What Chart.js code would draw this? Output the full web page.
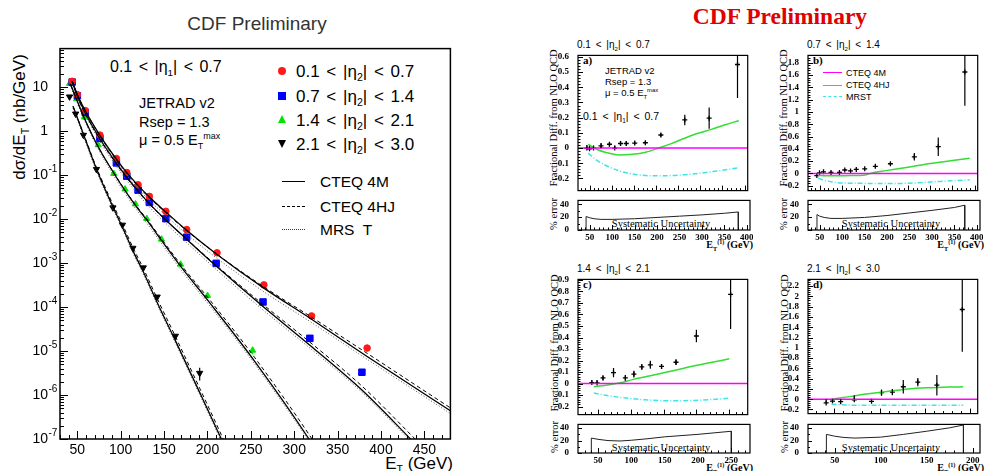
<!DOCTYPE html>
<html>
<head>
<meta charset="utf-8">
<title>CDF dijet cross section</title>
<script src="https://cdn.jsdelivr.net/npm/chart.js@4.4.1/dist/chart.umd.min.js"></script>
<style>
  body { margin: 0; background: #fff; }
  #page { position: relative; width: 985px; height: 471px; overflow: hidden; background: #fff; }
  #page canvas { position: absolute; }
  .t { position: absolute; white-space: nowrap; line-height: 1; color: #000; }
  .sans { font-family: "Liberation Sans", Arial, sans-serif; }
  .serif { font-family: "Liberation Serif", "Times New Roman", serif; }
  .l { transform: translate(0, -50%); }
  .c { transform: translate(-50%, -50%); }
  .r { transform: translate(-100%, -50%); }
  .rot { transform: translate(-50%, -50%) rotate(-90deg); }
  .mk { position: absolute; }
  .ln { position: absolute; height: 0; }
  sub, sup { font-size: 62%; line-height: 0; }
  .sp { word-spacing: 2px; }
</style>
</head>
<body>
<div id="page">
  <!-- left panel text -->
  <div class="t sans c" style="left:257px;top:23px;font-size:19px;color:#333">CDF Preliminary</div>
  <div class="t sans rot" style="left:19px;top:117px;font-size:17px">dσ/dE<sub>T</sub> (nb/GeV)</div>
  <div class="t sans l sp" style="left:110px;top:67px;font-size:16px">0.1 &lt; |η<sub>1</sub>| &lt; 0.7</div>
  <div class="t sans l" style="left:139px;top:103px;font-size:14.5px">JETRAD v2</div>
  <div class="t sans l" style="left:139px;top:122px;font-size:14.5px">Rsep = 1.3</div>
  <div class="t sans l" style="left:139px;top:140px;font-size:14.5px">μ = 0.5 E<sub>T</sub><sup>max</sup></div>

  <div class="mk" style="left:278px;top:67px;width:8px;height:8px;border-radius:50%;background:#ff1a1a"></div>
  <div class="mk" style="left:278px;top:92px;width:8px;height:8px;background:#0000ff"></div>
  <div class="mk" style="left:278px;top:115px;width:0;height:0;border-left:4px solid transparent;border-right:4px solid transparent;border-bottom:8px solid #00e600"></div>
  <div class="mk" style="left:278px;top:140px;width:0;height:0;border-left:4px solid transparent;border-right:4px solid transparent;border-top:8px solid #000"></div>
  <div class="t sans l sp" style="left:296px;top:71px;font-size:17px">0.1 &lt; |η<sub>2</sub>| &lt; 0.7</div>
  <div class="t sans l sp" style="left:296px;top:96px;font-size:17px">0.7 &lt; |η<sub>2</sub>| &lt; 1.4</div>
  <div class="t sans l sp" style="left:296px;top:119.5px;font-size:17px">1.4 &lt; |η<sub>2</sub>| &lt; 2.1</div>
  <div class="t sans l sp" style="left:296px;top:144px;font-size:17px">2.1 &lt; |η<sub>2</sub>| &lt; 3.0</div>

  <div class="ln" style="left:282px;top:181px;width:23px;border-top:1.5px solid #000"></div>
  <div class="ln" style="left:282px;top:206px;width:23px;border-top:1.2px dashed #000"></div>
  <div class="ln" style="left:282px;top:229px;width:23px;border-top:1px dotted #333"></div>
  <div class="t sans l" style="left:320px;top:181.5px;font-size:15.5px">CTEQ 4M</div>
  <div class="t sans l" style="left:320px;top:206.5px;font-size:15.5px">CTEQ 4HJ</div>
  <div class="t sans l" style="left:320px;top:229.5px;font-size:15.5px">MRS&nbsp; T</div>
  <div class="t sans r" style="left:453px;top:463px;font-size:17px">E<sub>T</sub> (GeV)</div>

  <!-- right panels text -->
  <div class="t serif c" style="left:780px;top:17px;font-size:23.5px;font-weight:bold;color:#e00000">CDF Preliminary</div>

  <div class="t sans l sp" style="left:577px;top:44.5px;font-size:10px">0.1 &lt; |η<sub>2</sub>| &lt; 0.7</div>
  <div class="t sans l sp" style="left:807px;top:44.5px;font-size:10px">0.7 &lt; |η<sub>2</sub>| &lt; 1.4</div>
  <div class="t sans l sp" style="left:577px;top:269px;font-size:10px">1.4 &lt; |η<sub>2</sub>| &lt; 2.1</div>
  <div class="t sans l sp" style="left:807px;top:269px;font-size:10px">2.1 &lt; |η<sub>2</sub>| &lt; 3.0</div>

  <div class="t serif l" style="left:583px;top:60px;font-size:11px;font-weight:bold">a)</div>
  <div class="t serif l" style="left:813px;top:60px;font-size:11px;font-weight:bold">b)</div>
  <div class="t serif l" style="left:583px;top:284px;font-size:11px;font-weight:bold">c)</div>
  <div class="t serif l" style="left:813px;top:284px;font-size:11px;font-weight:bold">d)</div>

  <div class="t sans l" style="left:605px;top:71px;font-size:9.5px">JETRAD v2</div>
  <div class="t sans l" style="left:605px;top:81.5px;font-size:9.5px">Rsep = 1.3</div>
  <div class="t sans l" style="left:605px;top:92.5px;font-size:9.5px">μ = 0.5 E<sub>T</sub><sup>max</sup></div>
  <div class="t sans l sp" style="left:583px;top:116px;font-size:10.5px">0.1 &lt; |η<sub>1</sub>| &lt; 0.7</div>

  <div class="ln" style="left:823px;top:72px;width:19px;border-top:1.5px solid #ff00ff"></div>
  <div class="ln" style="left:823px;top:84.5px;width:19px;border-top:1.5px solid #33dd33"></div>
  <div class="ln" style="left:823px;top:96px;width:19px;border-top:1.5px dashed #3ce6e6"></div>
  <div class="t sans l" style="left:846px;top:72.5px;font-size:9px">CTEQ 4M</div>
  <div class="t sans l" style="left:846px;top:85px;font-size:9px">CTEQ 4HJ</div>
  <div class="t sans l" style="left:846px;top:96.5px;font-size:9px">MRST</div>

  <div class="t serif rot" style="left:554px;top:118px;font-size:10.5px">Fractional Diff. from NLO QCD</div>
  <div class="t serif rot" style="left:784px;top:118px;font-size:10.5px">Fractional Diff. from NLO QCD</div>
  <div class="t serif rot" style="left:555px;top:343px;font-size:10.5px">Fractional Diff. from NLO QCD</div>
  <div class="t serif rot" style="left:785px;top:343px;font-size:10.5px">Fractional Diff. from NLO QCD</div>

  <div class="t serif rot" style="left:554px;top:214px;font-size:10.5px">% error</div>
  <div class="t serif rot" style="left:784px;top:214px;font-size:10.5px">% error</div>
  <div class="t serif rot" style="left:555px;top:437px;font-size:10.5px">% error</div>
  <div class="t serif rot" style="left:785px;top:437px;font-size:10.5px">% error</div>

  <div class="t serif c" style="left:661px;top:224px;font-size:10.5px">Systematic Uncertainty</div>
  <div class="t serif c" style="left:891px;top:224px;font-size:10.5px">Systematic Uncertainty</div>
  <div class="t serif c" style="left:661px;top:448px;font-size:10.5px">Systematic Uncertainty</div>
  <div class="t serif c" style="left:891px;top:448px;font-size:10.5px">Systematic Uncertainty</div>

  <div class="t serif r" style="left:753px;top:245px;font-size:10px;font-weight:bold">E<sub>T</sub><sup>(1)</sup> (GeV)</div>
  <div class="t serif r" style="left:984px;top:245px;font-size:10px;font-weight:bold">E<sub>T</sub><sup>(1)</sup> (GeV)</div>
  <div class="t serif r" style="left:753px;top:468px;font-size:10px;font-weight:bold">E<sub>T</sub><sup>(1)</sup> (GeV)</div>
  <div class="t serif r" style="left:984px;top:468px;font-size:10px;font-weight:bold">E<sub>T</sub><sup>(1)</sup> (GeV)</div>
</div>

<script>
// ---------- left panel: measured dsigma/dET (nb/GeV) ----------
const etRed   = [44, 50, 59, 76, 95, 107, 120, 133, 152, 176, 211, 265, 320, 384];
const xsRed   = [13.7, 6.8, 2.96, 0.82, 0.239, 0.115, 0.0607, 0.033, 0.0151, 0.0058, 0.00172, 3.2e-4, 6.3e-5, 1.17e-5];
const etBlue  = [44, 50, 59, 76, 95, 107, 120, 133, 152, 176, 210, 264, 318, 378];
const xsBlue  = [13.2, 6.45, 2.72, 0.687, 0.191, 0.095, 0.0458, 0.0241, 0.0103, 0.0039, 9.9e-4, 1.31e-4, 1.95e-5, 3.3e-6];
const errBlue = [0, 0, 0, 0, 0, 0, 0, 0, 0, 0, 0, 0, 1.5e-6, 0.6e-6];
const etGreen = [41, 49, 58, 74, 92, 105, 117, 130, 147, 169, 200, 252];
const xsGreen = [12.1, 5.43, 2.1, 0.487, 0.109, 0.0482, 0.0221, 0.0103, 0.0035, 9.4e-4, 1.83e-4, 1.04e-5];
const errGreen = [0, 0, 0, 0, 0, 0, 0, 0, 0, 0, 0, 2.0e-6];
const etBlack = [41, 48, 57, 72, 91, 102, 114, 126, 142, 163, 191];
const xsBlack = [6.1, 2.49, 0.82, 0.137, 0.0183, 0.0074, 0.0022, 7.9e-4, 1.71e-4, 2.2e-5, 3.15e-6];
const errBlack = [0, 0, 0, 0, 0, 0, 0, 0, 0, 0, 1.0e-6];

// ---------- left panel: NLO curves ----------
const thEtRed     = [44, 50, 59, 76, 95, 107, 120, 133, 152, 176, 211, 265, 320, 384, 480];
const cteq4mRed   = [13.7, 6.8, 2.96, 0.81, 0.233, 0.115, 0.0589, 0.032, 0.0146, 0.0056, 0.00158, 2.7e-4, 5.3e-5, 7.5e-6, 4.4e-7];
const cteq4hjRed  = [14.1, 6.94, 2.97, 0.79, 0.225, 0.110, 0.0562, 0.0306, 0.0140, 0.00545, 0.00159, 2.88e-4, 5.9e-5, 8.9e-6, 5.1e-7];
const mrstRed     = [13.36, 6.53, 2.78, 0.731, 0.203, 0.0989, 0.0499, 0.0268, 0.0121, 0.00459, 0.00129, 2.23e-4, 4.46e-5, 6.5e-6, 3.8e-7];

const thEtBlue    = [44, 50, 59, 76, 95, 107, 120, 133, 152, 176, 210, 264, 318, 378, 440];
const cteq4mBlue  = [13.7, 6.39, 2.65, 0.677, 0.188, 0.090, 0.044, 0.0226, 0.0096, 0.0035, 8.6e-4, 1.03e-4, 1.36e-5, 1.3e-6, 7.6e-8];
const cteq4hjBlue = [13.3, 6.17, 2.54, 0.650, 0.180, 0.0864, 0.0425, 0.0219, 0.0094, 0.00352, 8.99e-4, 1.15e-4, 1.6e-5, 1.6e-6, 9.7e-8];
const mrstBlue    = [12.6, 5.78, 2.36, 0.586, 0.160, 0.0761, 0.0370, 0.0190, 0.00804, 0.00292, 7.2e-4, 8.65e-5, 1.17e-5, 1.16e-6, 6.8e-8];

const thEtGreen    = [42, 49, 58, 74, 93, 105, 118, 131, 148, 170, 202, 254, 317, 325];
const cteq4mGreen  = [12.0, 5.39, 2.0, 0.445, 0.104, 0.0445, 0.0193, 0.0090, 0.0031, 8.0e-4, 1.3e-4, 6.0e-6, 1.0e-7, 5.6e-8];
const cteq4hjGreen = [11.7, 5.27, 1.96, 0.443, 0.106, 0.0458, 0.0202, 0.00954, 0.00336, 8.92e-4, 1.51e-4, 7.3e-6, 1.27e-7, 7.2e-8];
const mrstGreen    = [11.0, 4.9, 1.8, 0.394, 0.0907, 0.0385, 0.0166, 0.0077, 0.00264, 6.8e-4, 1.11e-4, 5.2e-6, 8.9e-8, 5.0e-8];

const thEtBlack    = [45, 48, 57, 72, 91, 102, 114, 126, 142, 163, 191, 216, 222];
const cteq4mBlack  = [3.7, 2.58, 0.86, 0.139, 0.0191, 0.00657, 0.00193, 6.36e-4, 1.28e-4, 1.73e-5, 1.15e-6, 1.0e-7, 5.5e-8];
const cteq4hjBlack = [3.7, 2.61, 0.894, 0.151, 0.0218, 0.00762, 0.00228, 7.63e-4, 1.57e-4, 2.15e-5, 1.43e-6, 1.24e-7, 6.8e-8];
const mrstBlack    = [3.33, 2.32, 0.774, 0.125, 0.0171, 0.00588, 0.00172, 5.66e-4, 1.14e-4, 1.53e-5, 1.02e-6, 8.8e-8, 4.8e-8];

const xTicksLeft = [50, 100, 150, 200, 250, 300, 350, 400, 450];
const yTicksLeft = [1e-7, 1e-6, 1e-5, 1e-4, 1e-3, 1e-2, 1e-1, 1, 10];

// ---------- right panels: (data - CTEQ4M) / CTEQ4M ----------
const fracA = [0.0, -0.005, 0.0, 0.014, 0.025, 0.0, 0.03, 0.03, 0.033, 0.035, 0.086, 0.185, 0.197, 0.55];
const errA  = [0.02, 0.02, 0.015, 0.02, 0.015, 0.015, 0.015, 0.015, 0.01, 0.01, 0.012, 0.035, 0.07, 0.22];
const fracB = [-0.035, 0.01, 0.025, 0.015, 0.015, 0.055, 0.04, 0.065, 0.075, 0.115, 0.157, 0.27, 0.435, 1.65];
const errB  = [0.02, 0.015, 0.015, 0.015, 0.015, 0.015, 0.015, 0.015, 0.015, 0.015, 0.02, 0.06, 0.15, 0.55];
const fracC = [0.008, 0.005, 0.049, 0.095, 0.049, 0.082, 0.144, 0.163, 0.149, 0.185, 0.413, 0.774];
const errC  = [0.02, 0.025, 0.02, 0.04, 0.025, 0.03, 0.025, 0.035, 0.02, 0.025, 0.055, 0.3];
const fracD = [-0.073, -0.036, -0.048, -0.012, -0.042, 0.127, 0.139, 0.242, 0.333, 0.273, 1.745];
const errD  = [0.02, 0.02, 0.02, 0.09, 0.03, 0.06, 0.06, 0.13, 0.08, 0.2, 0.82];

const ratioEtA = [47, 65, 87, 117, 147, 177, 206, 236, 266, 295, 325, 354, 387];
const hjA   = [0.025, -0.006, -0.029, -0.045, -0.041, -0.027, 0.0, 0.031, 0.066, 0.097, 0.123, 0.152, 0.18];
const mrstA = [-0.033, -0.078, -0.115, -0.15, -0.171, -0.181, -0.183, -0.181, -0.175, -0.167, -0.156, -0.144, -0.13];
const ratioEtB = [47, 65, 90, 120, 150, 170, 200, 250, 300, 350, 389];
const hjB   = [-0.03, -0.04, -0.04, -0.035, -0.03, 0.01, 0.045, 0.10, 0.16, 0.21, 0.245];
const mrstB = [-0.08, -0.12, -0.15, -0.16, -0.163, -0.165, -0.165, -0.16, -0.14, -0.12, -0.105];
const ratioEtC = [44, 60, 84, 104, 124, 159, 194, 220, 250];
const hjC   = [-0.027, -0.018, 0.006, 0.036, 0.061, 0.105, 0.15, 0.18, 0.215];
const mrstC = [-0.082, -0.1, -0.12, -0.133, -0.142, -0.15, -0.147, -0.14, -0.128];
const ratioEtD = [47, 67, 85, 104, 122, 140, 158, 176, 192];
const hjD   = [0.0, 0.05, 0.1, 0.14, 0.18, 0.215, 0.225, 0.235, 0.24];
const mrstD = [-0.1, -0.115, -0.12, -0.12, -0.12, -0.12, -0.12, -0.12, -0.12];

// CTEQ 4M reference (zero line) across each axis
const refEtAB = [24, 407];
const refEtC  = [20, 278];
const refEtD  = [21, 208];
const refZero = [0, 0];

// systematic uncertainty (%)
const sysEtA = [42, 42, 50, 60, 75, 100, 150, 200, 250, 300, 350, 381, 381];
const sysA   = [0, 21, 19, 17.5, 16.5, 16.5, 17.5, 19.5, 21.5, 23.5, 26, 28, 0];
const sysEtB = [44, 44, 50, 60, 75, 100, 150, 200, 250, 300, 350, 373, 373];
const sysB   = [0, 24, 21.5, 19.5, 18, 18, 19.5, 22.5, 26.5, 30.5, 35, 38.5, 0];
const sysEtC = [40, 40, 50, 65, 83, 100, 125, 150, 200, 250, 250];
const sysC   = [0, 24, 22, 20, 19.3, 20.5, 23, 26, 30, 35, 0];
const sysEtD = [41, 41, 50, 60, 72, 100, 125, 150, 175, 190, 190];
const sysD   = [0, 30, 27, 25, 24, 25.5, 30, 35, 40.5, 45, 0];

const yTicksA = [-0.2, -0.1, 0, 0.1, 0.2, 0.3, 0.4, 0.5, 0.6];
const yTicksB = [-0.2, 0, 0.2, 0.4, 0.6, 0.8, 1, 1.2, 1.4, 1.6, 1.8];
const yTicksC = [-0.2, -0.1, 0, 0.1, 0.2, 0.3, 0.4, 0.5, 0.6, 0.7, 0.8, 0.9];
const yTicksD = [-0.2, 0, 0.2, 0.4, 0.6, 0.8, 1, 1.2, 1.4, 1.6, 1.8, 2, 2.2];
const yTicksErr = [0, 20, 40];
const xTicksAB = [50, 100, 150, 200, 250, 300, 350, 400];
const xTicksC  = [50, 100, 150, 200, 250];
const xTicksD  = [50, 100, 150, 200];

const SANS = '"Liberation Sans", Arial, sans-serif';
const SERIF = '"Liberation Serif", "Times New Roman", serif';
const RED = '#ff1a1a', BLUE = '#0000ff', GREEN = '#00e600';
const MAGENTA = '#ff00ff', LGREEN = '#33dd33', CYAN = '#3ce6e6';

const pts = (xs, ys) => xs.map((v, i) => ({ x: v, y: ys[i] }));
const steps = (a, b, d) => { const out = []; for (let v = a; v <= b + 1e-9; v += d) out.push(+v.toFixed(4)); return out; };
const logMinor = (lo, hi) => { const out = []; for (let e = lo; e < hi; e++) for (let m = 2; m <= 9; m++) out.push(m * Math.pow(10, e)); return out; };

// frame, inward ticks and (optionally) power-of-ten labels
const frameTicks = {
  id: 'frameTicks',
  afterDraw(chart, args, o) {
    const { ctx, chartArea: a } = chart;
    const x = chart.scales.x, y = chart.scales.y;
    const xl = o.xLen || [5, 2.5], yl = o.yLen || [5, 2.5];
    ctx.save();
    ctx.strokeStyle = '#000';
    ctx.lineWidth = 1;
    ctx.beginPath();
    const vx = (v, len) => { if (v < x.min || v > x.max) return; const p = Math.round(x.getPixelForValue(v)) + 0.5; ctx.moveTo(p, a.bottom); ctx.lineTo(p, a.bottom - len); };
    const vy = (v, len) => { if (v < y.min || v > y.max) return; const p = Math.round(y.getPixelForValue(v)) + 0.5; ctx.moveTo(a.left, p); ctx.lineTo(a.left + len, p); };
    (o.xMajor || []).forEach(v => vx(v, xl[0]));
    (o.xMinor || []).forEach(v => vx(v, xl[1]));
    (o.yMajor || []).forEach(v => vy(v, yl[0]));
    (o.yMinor || []).forEach(v => vy(v, yl[1]));
    ctx.stroke();
    ctx.lineWidth = o.frame || 1.5;
    ctx.strokeRect(a.left, a.top, a.right - a.left, a.bottom - a.top);
    if (o.powLabels) {
      ctx.fillStyle = '#000';
      ctx.textBaseline = 'middle';
      o.powLabels.forEach(v => {
        const p = y.getPixelForValue(v);
        const e = Math.round(Math.log10(v));
        const xr = a.left - 12;
        ctx.font = '14px ' + SANS;
        ctx.textAlign = 'right';
        ctx.fillText(e === 0 ? '1' : '10', xr, p);
        if (e < 0) {
          ctx.font = '10px ' + SANS;
          ctx.textAlign = 'left';
          ctx.fillText(String(e), xr + 0.5, p - 6);
        }
      });
    }
    ctx.restore();
  }
};

// vertical error bars from a dataset's "errors" array
const errorBars = {
  id: 'errorBars',
  afterDatasetsDraw(chart) {
    const { ctx, chartArea: a } = chart;
    const x = chart.scales.x, y = chart.scales.y;
    ctx.save();
    ctx.beginPath();
    ctx.rect(a.left, a.top, a.right - a.left, a.bottom - a.top);
    ctx.clip();
    chart.data.datasets.forEach(ds => {
      if (!ds.errors) return;
      ctx.strokeStyle = ds.errorColor || '#000';
      ctx.lineWidth = 1.2;
      ds.data.forEach((p, i) => {
        const e = ds.errors[i];
        if (!e) return;
        const px = x.getPixelForValue(p.x);
        ctx.beginPath();
        ctx.moveTo(px, y.getPixelForValue(Math.max(p.y - e, 1e-12)));
        ctx.lineTo(px, y.getPixelForValue(p.y + e));
        ctx.stroke();
      });
    });
    ctx.restore();
  }
};

const page = document.getElementById('page');

function panel(area, yw, xh, config) {
  const pad = 3;
  const cv = document.createElement('canvas');
  const w = area.r - area.l + yw + pad, h = area.b - area.t + pad + xh;
  cv.width = w; cv.height = h;
  Object.assign(cv.style, { left: (area.l - yw) + 'px', top: (area.t - pad) + 'px', width: w + 'px', height: h + 'px' });
  page.appendChild(cv);
  const o = config.options;
  o.responsive = false;
  o.animation = false;
  o.devicePixelRatio = 1;
  o.layout = { padding: { top: pad, right: pad, left: 0, bottom: 0 } };
  o.plugins.legend = { display: false };
  o.plugins.tooltip = { enabled: false };
  o.scales.x.afterFit = s => { s.height = xh; };
  o.scales.y.afterFit = s => { s.width = yw; };
  config.plugins = [frameTicks, errorBars];
  return new Chart(cv, config);
}

function axis(type, min, max, ticks, font, padding, show, fmt) {
  return {
    type, min, max,
    grid: { display: false },
    border: { display: false },
    afterBuildTicks: s => { s.ticks = ticks.map(v => ({ value: v })); },
    ticks: { display: show, autoSkip: false, maxRotation: 0, minRotation: 0, padding, color: '#000', font, callback: fmt || (v => String(v)) }
  };
}

const curve = (xs, ys, color, width, dash) => ({
  data: pts(xs, ys), borderColor: color, borderWidth: width, borderDash: dash || [],
  pointRadius: 0, fill: false, cubicInterpolationMode: 'monotone'
});
const marks = (xs, ys, style, color, radius, extra) => Object.assign({
  data: pts(xs, ys), showLine: false, pointStyle: style, pointRadius: radius,
  backgroundColor: color, borderColor: color, borderWidth: 1
}, extra || {});

// ---------- left: cross sections ----------
const fontLeft = { family: SANS, size: 14 };
panel({ l: 60, t: 46, r: 453, b: 439 }, 60, 30, {
  type: 'line',
  data: {
    datasets: [
      curve(thEtRed, cteq4mRed, '#000', 1.3), curve(thEtRed, cteq4hjRed, '#000', 1, [4, 3]), curve(thEtRed, mrstRed, '#555', 1, [1, 2]),
      curve(thEtBlue, cteq4mBlue, '#000', 1.3), curve(thEtBlue, cteq4hjBlue, '#000', 1, [4, 3]), curve(thEtBlue, mrstBlue, '#555', 1, [1, 2]),
      curve(thEtGreen, cteq4mGreen, '#000', 1.3), curve(thEtGreen, cteq4hjGreen, '#000', 1, [4, 3]), curve(thEtGreen, mrstGreen, '#555', 1, [1, 2]),
      curve(thEtBlack, cteq4mBlack, '#000', 1.3), curve(thEtBlack, cteq4hjBlack, '#000', 1, [4, 3]), curve(thEtBlack, mrstBlack, '#555', 1, [1, 2]),
      marks(etRed, xsRed, 'circle', RED, 3.3),
      marks(etBlue, xsBlue, 'rect', BLUE, 4.6, { errors: errBlue, errorColor: BLUE }),
      marks(etGreen, xsGreen, 'triangle', GREEN, 3.6, { errors: errGreen, errorColor: GREEN }),
      marks(etBlack, xsBlack, 'triangle', '#000', 3.6, { rotation: 180, errors: errBlack })
    ]
  },
  options: {
    plugins: {
      frameTicks: {
        xMajor: xTicksLeft, xMinor: steps(30, 480, 10), xLen: [8, 4],
        yMajor: yTicksLeft, yMinor: logMinor(-7, 2), yLen: [8, 4],
        powLabels: yTicksLeft, frame: 1.5
      }
    },
    scales: {
      x: axis('linear', 30, 480, xTicksLeft, fontLeft, -5, true),
      y: axis('logarithmic', 1e-7, 76, yTicksLeft, fontLeft, 0, false)
    }
  }
});

// ---------- right: fractional differences ----------
const fontR = { family: SERIF, size: 9, weight: 'bold' };
const fmtFrac = v => { const r = Math.round(v * 10) / 10; return r === 0 ? '0' : String(r); };

function ratioPanel(main, err, xr, yr, yTicks, yMinorStep, xTicks, et, frac, errs, rEt, hj, mrst, refEt, sEt, sys) {
  panel(main, 26, 1, {
    type: 'line',
    data: {
      datasets: [
        curve(refEt, refZero, MAGENTA, 1.5),
        curve(rEt, hj, LGREEN, 1.5),
        curve(rEt, mrst, CYAN, 1.5, [5, 2, 1, 2]),
        marks(et, frac, 'cross', '#000', 2.5, { borderWidth: 1.3, errors: errs })
      ]
    },
    options: {
      plugins: {
        frameTicks: {
          xMajor: xTicks, xMinor: steps(30, xr[1], 10),
          yMajor: yTicks, yMinor: steps(yTicks[0], yr[1], yMinorStep), frame: 1.2
        }
      },
      scales: {
        x: axis('linear', xr[0], xr[1], xTicks, fontR, 0, false),
        y: axis('linear', yr[0], yr[1], yTicks, fontR, 1, true, fmtFrac)
      }
    }
  });
  panel(err, 26, 12, {
    type: 'line',
    data: { datasets: [ Object.assign(curve(sEt, sys, '#222', 1), { cubicInterpolationMode: 'default', tension: 0 }) ] },
    options: {
      plugins: {
        frameTicks: {
          xMajor: xTicks, xMinor: steps(30, xr[1], 10),
          yMajor: yTicksErr, yMinor: [10, 30], yLen: [4, 2], frame: 1.2
        }
      },
      scales: {
        x: axis('linear', xr[0], xr[1], xTicks, fontR, -6, true),
        y: axis('linear', 0, 46, yTicksErr, fontR, 1, true)
      }
    }
  });
}

ratioPanel({ l: 578, t: 52, r: 750, b: 196 }, { l: 578, t: 197, r: 750, b: 230 }, [24, 407], [-0.28, 0.61],
  yTicksA, 0.02, xTicksAB, etRed, fracA, errA, ratioEtA, hjA, mrstA, refEtAB, sysEtA, sysA);
ratioPanel({ l: 808, t: 52, r: 980, b: 196 }, { l: 808, t: 197, r: 980, b: 230 }, [24, 407], [-0.28, 1.92],
  yTicksB, 0.04, xTicksAB, etBlue, fracB, errB, ratioEtB, hjB, mrstB, refEtAB, sysEtB, sysB);
ratioPanel({ l: 578, t: 276, r: 750, b: 420 }, { l: 578, t: 421, r: 750, b: 453 }, [20, 278], [-0.27, 0.905],
  yTicksC, 0.02, xTicksC, etGreen, fracC, errC, ratioEtC, hjC, mrstC, refEtC, sysEtC, sysC);
ratioPanel({ l: 808, t: 276, r: 980, b: 419 }, { l: 808, t: 421, r: 980, b: 453 }, [21, 208], [-0.28, 2.33],
  yTicksD, 0.04, xTicksD, etBlack, fracD, errD, ratioEtD, hjD, mrstD, refEtD, sysEtD, sysD);
</script>
</body>
</html>
